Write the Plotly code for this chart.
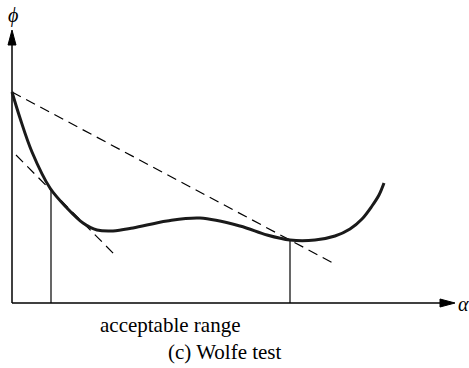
import plotly.graph_objects as go

# curve phi(alpha) in pixel units
curve_x = [12, 20, 32, 50, 67, 83, 97, 113, 133, 167, 200, 240, 267, 290, 315, 335, 350, 362, 372, 379, 384]
curve_y = [92, 118, 152, 188, 208, 223, 230, 231, 228, 221, 218, 226, 235, 240, 240, 236, 229, 219, 206, 195, 183]

# sufficient decrease line and tangent line
line1_x = [12, 333]
line1_y = [92, 263]
line2_x = [16, 117]
line2_y = [155, 257]

# ends of the acceptable range
range_x = [51, 290]
range_y = [190, 240]

axis_y0 = 303

fig = go.Figure()

fig.add_trace(go.Scatter(x=[12, 12], y=[axis_y0, 42], mode="lines",
                         line=dict(color="black", width=1.5)))
fig.add_trace(go.Scatter(x=[12, 442], y=[axis_y0, axis_y0], mode="lines",
                         line=dict(color="black", width=1.5)))
fig.add_trace(go.Scatter(x=line1_x, y=line1_y, mode="lines",
                         line=dict(color="black", width=1.2, dash="10px,6px")))
fig.add_trace(go.Scatter(x=line2_x, y=line2_y, mode="lines",
                         line=dict(color="black", width=1.2, dash="10px,6px")))
for rx, ry in zip(range_x, range_y):
    fig.add_trace(go.Scatter(x=[rx, rx], y=[ry, axis_y0], mode="lines",
                             line=dict(color="black", width=1.2)))
fig.add_trace(go.Scatter(x=curve_x, y=curve_y, mode="lines",
                         line=dict(color="#1a1a1a", width=3, shape="spline", smoothing=1.0)))

# arrow heads
fig.add_trace(go.Scatter(x=[12, 8, 16, 12], y=[30, 45, 45, 30], mode="lines",
                         fill="toself", fillcolor="black", line=dict(color="black", width=1)))
fig.add_trace(go.Scatter(x=[455, 440, 440, 455], y=[axis_y0, 299, 307, axis_y0], mode="lines",
                         fill="toself", fillcolor="black", line=dict(color="black", width=1)))

font = dict(family="Liberation Serif", size=21, color="black")
sym = dict(family="Liberation Serif", size=20, color="black")
fig.add_annotation(x=13, y=15, text="<i>ϕ</i>", showarrow=False, font=sym)
fig.add_annotation(x=463, y=304, text="<i>α</i>", showarrow=False, font=sym)
fig.add_annotation(x=170, y=325, text="acceptable range", showarrow=False, font=font)
fig.add_annotation(x=225, y=352, text="(c) Wolfe test", showarrow=False, font=font)

fig.update_layout(
    width=469, height=368,
    margin=dict(l=0, r=0, t=0, b=0),
    showlegend=False,
    hovermode=False,
    plot_bgcolor="white", paper_bgcolor="white",
    xaxis=dict(range=[0, 469], visible=False, fixedrange=True),
    yaxis=dict(range=[368, 0], visible=False, fixedrange=True),
)

# drop the default 8px body margin so the figure sits at the page corner
fig.write_html("out.html", config={"displayModeBar": False},
               post_script="document.body.style.margin='0';document.body.style.overflow='hidden';")
